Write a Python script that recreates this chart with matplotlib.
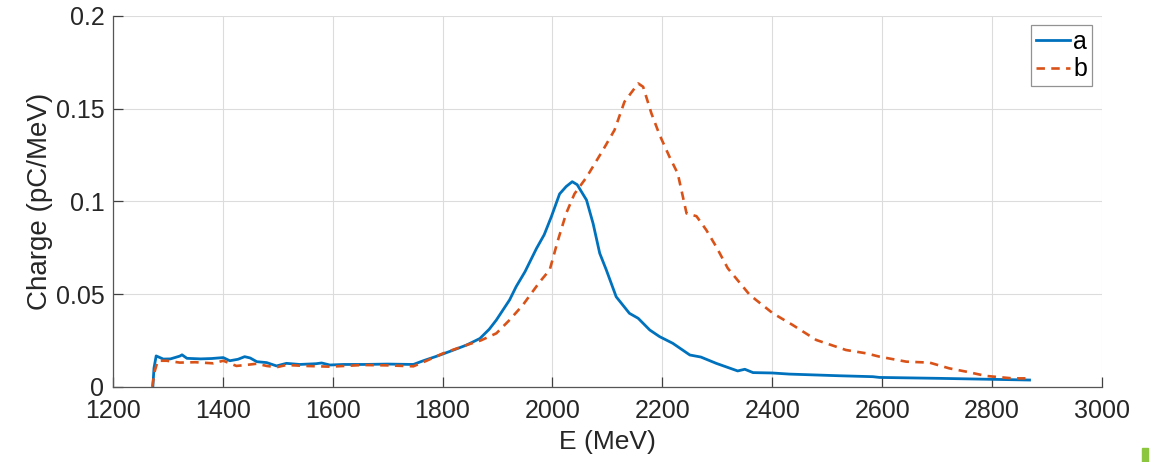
import matplotlib
matplotlib.use("Agg")
import matplotlib.pyplot as plt
from matplotlib.patches import Rectangle

plt.rcParams['font.family'] = ['Liberation Sans', 'DejaVu Sans']

# curve a (solid blue)
e_a = [1273, 1275, 1279, 1292, 1305, 1322, 1326, 1335, 1360, 1380, 1401, 1413, 1428, 1440,
       1450, 1462, 1480, 1498, 1516, 1540, 1570, 1580, 1595, 1620, 1656, 1700, 1747, 1765,
       1790, 1813, 1844, 1868, 1885, 1898, 1922, 1934, 1950, 1971, 1985, 1998, 2013, 2025,
       2036, 2045, 2062, 2074, 2086, 2098, 2116, 2140, 2156, 2177, 2195, 2219, 2250, 2270,
       2298, 2337, 2350, 2365, 2400, 2431, 2522, 2583, 2595, 2704, 2795, 2868]
q_a = [0, 0.010, 0.0166, 0.0149, 0.015, 0.0165, 0.0172, 0.0153, 0.015, 0.0152, 0.0157, 0.014,
       0.0148, 0.0162, 0.0155, 0.0135, 0.013, 0.0112, 0.0126, 0.012, 0.0124, 0.0128, 0.0117,
       0.012, 0.012, 0.0122, 0.012, 0.014, 0.0165, 0.019, 0.0225, 0.026, 0.031, 0.036, 0.0468,
       0.054, 0.062, 0.0746, 0.082, 0.0917, 0.104, 0.108, 0.1106, 0.109, 0.1007, 0.088, 0.072,
       0.063, 0.0485, 0.0396, 0.0369, 0.0306, 0.027, 0.0234, 0.0171, 0.016, 0.0126, 0.0085,
       0.0094, 0.0076, 0.0074, 0.0068, 0.0059, 0.0054, 0.005, 0.0045, 0.004, 0.0036]

# curve b (dashed orange)
e_b = [1272, 1276, 1282, 1298, 1322, 1350, 1383, 1401, 1425, 1445, 1462, 1480, 1498, 1516,
       1550, 1595, 1656, 1700, 1747, 1771, 1801, 1820, 1844, 1870, 1898, 1922, 1946, 1977,
       1995, 2010, 2025, 2040, 2062, 2092, 2113, 2131, 2156, 2165, 2180, 2195, 2213, 2228,
       2244, 2262, 2280, 2298, 2319, 2359, 2401, 2437, 2480, 2534, 2571, 2595, 2644, 2686,
       2722, 2753, 2789, 2837, 2868]
q_b = [0, 0.008, 0.014, 0.014, 0.013, 0.0132, 0.0126, 0.014, 0.0112, 0.0118, 0.0124, 0.0112,
       0.0105, 0.0117, 0.0112, 0.0108, 0.0117, 0.0115, 0.011, 0.014, 0.018, 0.020, 0.0225,
       0.025, 0.0288, 0.036, 0.044, 0.0566, 0.063, 0.079, 0.0935, 0.104, 0.113, 0.1277, 0.1385,
       0.1537, 0.1636, 0.1618, 0.1475, 0.1358, 0.124, 0.115, 0.0935, 0.092, 0.0845, 0.0755,
       0.0639, 0.0495, 0.0396, 0.0333, 0.0252, 0.0198, 0.018, 0.0162, 0.0135, 0.013, 0.0099,
       0.0081, 0.0058, 0.0045, 0.0045]

xticks = [1200, 1400, 1600, 1800, 2000, 2200, 2400, 2600, 2800, 3000]
yticks = [0, 0.05, 0.1, 0.15, 0.2]
ytick_labels = ['0', '0.05', '0.1', '0.15', '0.2']

fig = plt.figure(figsize=(11.54, 4.62), dpi=100)
ax = fig.add_axes([0.0977, 0.163, 0.8573, 0.8024])

ax.plot(e_a, q_a, color='#0072BD', lw=2.0, label='a')
ax.plot(e_b, q_b, color='#D95319', lw=1.9, ls=(0, (3.2, 2.4)), label='b')

ax.set_xlim(1200, 3000)
ax.set_ylim(0, 0.2)
ax.set_xticks(xticks)
ax.set_yticks(yticks)
ax.set_yticklabels(ytick_labels)
ax.grid(True, color='#dcdcdc', lw=0.8)
ax.set_axisbelow(True)

for s in ['top', 'right']:
    ax.spines[s].set_visible(False)
for s in ['left', 'bottom']:
    ax.spines[s].set_color('#555555')
    ax.spines[s].set_linewidth(0.9)

ax.tick_params(direction='in', length=7, width=0.9, color='#404040',
               labelsize=18, labelcolor='#262626')
ax.tick_params(axis='x', pad=9)
ax.tick_params(axis='y', pad=6)
ax.set_xlabel('E (MeV)', fontsize=19, color='#262626', labelpad=5)
ax.set_ylabel('Charge (pC/MeV)', fontsize=20, color='#262626', labelpad=2)

leg = ax.legend(loc='upper right', bbox_to_anchor=(0.99, 0.977), fontsize=18,
                frameon=True, fancybox=False, handlelength=1.35, handletextpad=0.15,
                borderpad=0.2, labelspacing=0.15, borderaxespad=0)
leg.get_frame().set_edgecolor('#777777')
leg.get_frame().set_linewidth(0.9)

fig.patches.append(Rectangle((1142 / 1154, 0), 6 / 1154, 14 / 462,
                             transform=fig.transFigure, color='#8cc63f'))

fig.savefig('out.png', dpi=100)
